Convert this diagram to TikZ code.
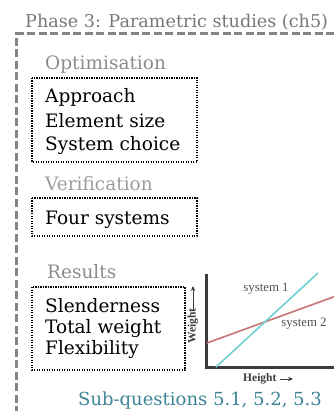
\documentclass[tikz,border=0pt]{standalone}
\usepackage{fontspec}
\setmainfont{DejaVu Serif}
\newfontfamily\chartfont{Liberation Serif}
\usetikzlibrary{arrows.meta}
\definecolor{framegray}{HTML}{858585}
\definecolor{titlegray}{HTML}{777777}
\definecolor{headgray}{HTML}{8C8C8C}
\definecolor{subteal}{HTML}{3D8494}
\definecolor{sysone}{HTML}{6FD0D0}
\definecolor{systwo}{HTML}{C87474}
\definecolor{axisgray}{HTML}{3C3C3C}
\tikzset{
  frame/.style={draw=framegray, line width=3pt, dash pattern=on 8pt off 3.5pt},
  itembox/.style={draw=black, line width=1.2pt, dash pattern=on 1.2pt off 1.3pt},
  heading/.style={anchor=base west, inner sep=0pt, text=headgray, font=\fontsize{18.5}{22}\selectfont},
  body/.style={anchor=base west, inner sep=0pt, text=black, font=\fontsize{18.5}{22}\selectfont},
  axis/.style={draw=axisgray, line width=3pt},
  curve/.style={line width=1.6pt},
  chartlabel/.style={inner sep=0pt, text=axisgray!90, font=\chartfont\fontsize{12.8}{14}\selectfont},
  axislabel/.style={inner sep=0pt, text=axisgray, font=\chartfont\bfseries\fontsize{11.5}{12}\selectfont},
}
\begin{document}
\begin{tikzpicture}[x=1pt, y=-1pt]
\useasboundingbox (0,0) rectangle (333,411);

% phase title and dashed frame
\node[anchor=base west, inner sep=0pt, text=titlegray, font=\fontsize{17.6}{22}\selectfont]
  (title) at (25,28) {Phase 3: Parametric studies (ch5)};
\coordinate (fbot) at (16,414);
\coordinate (fcorner) at (16,34);
\coordinate (fright) at (340,34);
\draw[frame] (fbot) -- (fcorner) -- (fright);

% optimisation group
\node[heading] (hopt) at (45,70) {Optimisation};
\draw[itembox] (32,78) rectangle (197,162);
\node[body] (approach) at (45,103) {Approach};
\node[body] (elsize) at (45,127.5) {Element size};
\node[body] (syschoice) at (45,151) {System choice};

% verification group
\node[heading, text=headgray!85] (hver) at (45,191) {Verification};
\draw[itembox] (32,198) rectangle (197,236);
\node[body] (four) at (45,224) {Four systems};

% results group
\node[heading] (hres) at (47,278) {Results};
\draw[itembox] (32,287) rectangle (185,370);
\node[body] (slender) at (45,312) {Slenderness};
\node[body] (weight) at (45,333) {Total weight};
\node[body] (flex) at (45,354) {Flexibility};

% chart
\coordinate (ytop) at (206.5,274);
\coordinate (origin) at (206.5,367.5);
\coordinate (xend) at (336,367.5);
\draw[axis] (ytop) -- (origin) -- (xend);
\coordinate (s1a) at (216,367);
\coordinate (s1b) at (318,273);
\coordinate (s2a) at (207,343);
\coordinate (s2b) at (336,296);
\draw[curve, systwo] (s2a) -- (s2b);
\draw[curve, sysone] (s1a) -- (s1b);
\node[chartlabel] (l1) at (266,289) {system 1};
\node[chartlabel] (l2) at (304,324) {system 2};

% axis captions
\node[axislabel, anchor=west] (hlab) at (243,379) {Height};
\coordinate (harrow) at (293,379);
\draw[axisgray, line width=1pt, -{Stealth[length=5pt,width=4.5pt]}] ([xshift=3pt]hlab.east) -- (harrow);
\node[axislabel, rotate=90, anchor=west] (wlab) at (193,344) {Weight};
\coordinate (warrow) at (193,286);
\draw[axisgray, line width=1pt, -{Stealth[length=5pt,width=4.5pt]}] ([yshift=-3pt]wlab.east) -- (warrow);

% sub-questions
\node[anchor=base west, inner sep=0pt, text=subteal, font=\fontsize{18}{22}\selectfont]
  (subq) at (78,405) {Sub-questions 5.1, 5.2, 5.3};
\end{tikzpicture}
\end{document}
